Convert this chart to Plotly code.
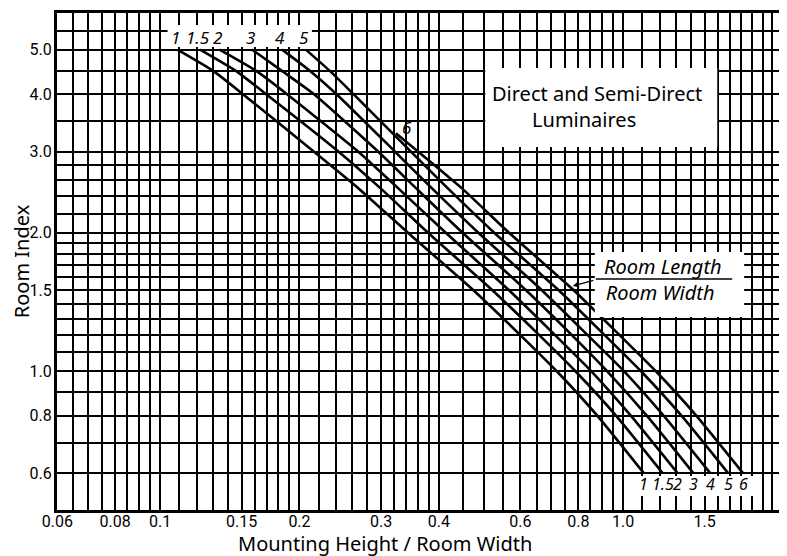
import math
import plotly.graph_objects as go

# ---------------- data ----------------
ratio_labels = ["1", "1.5", "2", "3", "4", "5", "6"]

# Room index levels at which each curve was read
y_levels = [5.0, 4.5, 4.0, 3.0, 2.5, 2.0, 1.5, 1.2, 1.0, 0.8, 0.6]
x_r1   = [0.109, 0.130, 0.151, 0.215, 0.268, 0.343, 0.475, 0.599, 0.719, 0.880, 1.109]
x_r1_5 = [0.122, 0.1455, 0.1695, 0.243, 0.299, 0.379, 0.522, 0.658, 0.789, 0.966, 1.218]
x_r2   = [0.1344, 0.161, 0.188, 0.268, 0.3265, 0.414, 0.567, 0.712, 0.854, 1.040, 1.312]
x_r3   = [0.158, 0.183, 0.215, 0.296, 0.357, 0.450, 0.617, 0.774, 0.924, 1.126, 1.419]
x_r4   = [0.1834, 0.2105, 0.2405, 0.3217, 0.3861, 0.4868, 0.6674, 0.837, 1.005, 1.224, 1.543]
x_r5   = [0.2064, 0.2323, 0.2616, 0.3481, 0.4178, 0.5268, 0.7258, 0.911, 1.093, 1.338, 1.687]
y_levels_r6 = [3.29, 2.5, 2.0, 1.5, 1.2, 1.0, 0.8, 0.6]
x_r6   = [0.323, 0.448, 0.567, 0.782, 0.981, 1.177, 1.440, 1.816]

x_grid = [0.06, 0.065, 0.07, 0.075, 0.08, 0.085, 0.09, 0.095, 0.1,
          0.11, 0.12, 0.13, 0.14, 0.15, 0.16, 0.17, 0.18, 0.19, 0.2,
          0.22, 0.24, 0.26, 0.28, 0.3, 0.32, 0.34, 0.36, 0.38, 0.4,
          0.45, 0.5, 0.55, 0.6, 0.65, 0.7, 0.75, 0.8, 0.85, 0.9, 0.95, 1.0,
          1.1, 1.2, 1.3, 1.4, 1.5, 1.6, 1.7, 1.8, 1.9, 2.0, 2.1, 2.2]
x_tick_labels = {0.06: "0.06", 0.08: "0.08", 0.1: "0.1", 0.15: "0.15", 0.2: "0.2",
                 0.3: "0.3", 0.4: "0.4", 0.6: "0.6", 0.8: "0.8", 1.0: "1.0", 1.5: "1.5"}
y_grid = [0.5, 0.6, 0.7, 0.8, 0.9, 1.0, 1.1, 1.2, 1.3, 1.4, 1.5, 1.6, 1.7, 1.8, 1.9,
          2.0, 2.2, 2.4, 2.6, 2.8, 3.0, 3.5, 4.0, 4.5, 5.0, 5.5, 6.0]
y_tick_labels = {0.6: "0.6", 0.8: "0.8", 1.0: "1.0", 1.5: "1.5", 2.0: "2.0",
                 3.0: "3.0", 4.0: "4.0", 5.0: "5.0"}

curves = [
    ("1", x_r1, y_levels), ("1.5", x_r1_5, y_levels), ("2", x_r2, y_levels),
    ("3", x_r3, y_levels), ("4", x_r4, y_levels), ("5", x_r5, y_levels),
    ("6", x_r6, y_levels_r6),
]

# ---------------- figure ----------------
TICK_FONT = "Roboto, DejaVu Sans, sans-serif"
TEXT_FONT = "Noto Sans, DejaVu Sans, sans-serif"

fig = go.Figure()
for name, xs, ys in curves:
    fig.add_trace(go.Scatter(
        x=xs, y=ys, mode="lines", name=name,
        line=dict(color="black", width=2.6, shape="spline", smoothing=0.5),
        showlegend=False, hoverinfo="skip"))


def label_font(size):
    return dict(family=TEXT_FONT, size=size, color="black")


annotations = []
# curve labels at the top (start of curves) and bottom (end of curves)
for name, xs, ys in curves:
    if name != "6":
        annotations.append(dict(x=math.log10(xs[0]), y=math.log10(ys[0]), xref="x", yref="y",
                                text="<i>%s</i>" % name, showarrow=False,
                                xanchor="center", yanchor="middle",
                                xshift=-2, yshift=12, font=label_font(17)))
    else:
        annotations.append(dict(x=math.log10(xs[0]), y=math.log10(ys[0]), xref="x", yref="y",
                                text="<i>6</i>", showarrow=False,
                                xanchor="center", yanchor="middle",
                                xshift=11, yshift=6, font=label_font(17)))
    annotations.append(dict(x=math.log10(xs[-1]), y=math.log10(ys[-1]), xref="x", yref="y",
                            text="<i>%s</i>" % name, showarrow=False,
                            xanchor="center", yanchor="middle",
                            xshift=0, yshift=-11, font=label_font(16)))

nb = "\u00a0"
annotations += [
    dict(x=0.745, y=0.8115, text="Direct and Semi-Direct<br>Luminaires" + nb * 5,
         font=label_font(20)),
    dict(x=0.8362, y=0.4637, text="<i>Room Length</i><br><i>Room Width</i>" + nb,
         font=label_font(20)),
    dict(x=0.452, y=-0.0674, text="Mounting Height / Room Width", font=label_font(20)),
]
for a in annotations[-3:]:
    a.update(xref="paper", yref="paper", showarrow=False, xanchor="center", yanchor="middle")

# small arrow pointing from the ratio note to the curves
annotations.append(dict(x=0.7115, y=0.4507, xref="paper", yref="paper", text="",
                        showarrow=True, ax=22, ay=-6, arrowhead=2, arrowsize=1,
                        arrowwidth=1.2, arrowcolor="black"))

white_box = dict(type="rect", xref="paper", yref="paper", fillcolor="white",
                 line=dict(width=0), layer="above")
shapes = [
    dict(white_box, x0=0.1525, x1=0.3516, y0=0.9316, y1=0.9759),
    dict(white_box, x0=0.5907, x1=0.9107, y0=0.7304, y1=0.8893),
    dict(white_box, x0=0.7418, x1=0.9478, y0=0.3883, y1=0.5191),
    dict(white_box, x0=0.7871, x1=0.9657, y0=0.0282, y1=0.0684),
    dict(type="line", xref="paper", yref="paper", x0=0.7431, x1=0.9313, y0=0.4648, y1=0.4648,
         line=dict(color="black", width=1.5), layer="above"),
]

# page body has an 8px margin: size and margins compensate for it
fig.update_layout(
    width=779, height=548,
    margin=dict(l=49, r=2, t=5, b=46),
    paper_bgcolor="white", plot_bgcolor="white",
    annotations=annotations, shapes=shapes,
    xaxis=dict(type="log", range=[math.log10(0.0599), math.log10(2.203)],
               tickvals=x_grid, ticktext=[x_tick_labels.get(v, "") for v in x_grid],
               showgrid=True, gridcolor="black", gridwidth=1.6, zeroline=False,
               showline=True, mirror=True, linecolor="black", linewidth=3,
               ticks="", ticklabelstandoff=-5,
               tickfont=dict(family=TICK_FONT, size=16, color="black")),
    yaxis=dict(type="log", range=[math.log10(0.4995), math.log10(6.005)],
               tickvals=y_grid, ticktext=[y_tick_labels.get(v, "") for v in y_grid],
               showgrid=True, gridcolor="black", gridwidth=1.6, zeroline=False,
               showline=True, mirror=True, linecolor="black", linewidth=3,
               ticks="", ticklabelstandoff=-1,
               tickfont=dict(family=TICK_FONT, size=16, color="black"),
               title=dict(text="Room Index" + nb * 11, standoff=2,
                          font=dict(family=TEXT_FONT, size=20, color="black"))),
)

fig.write_html("out.html")
